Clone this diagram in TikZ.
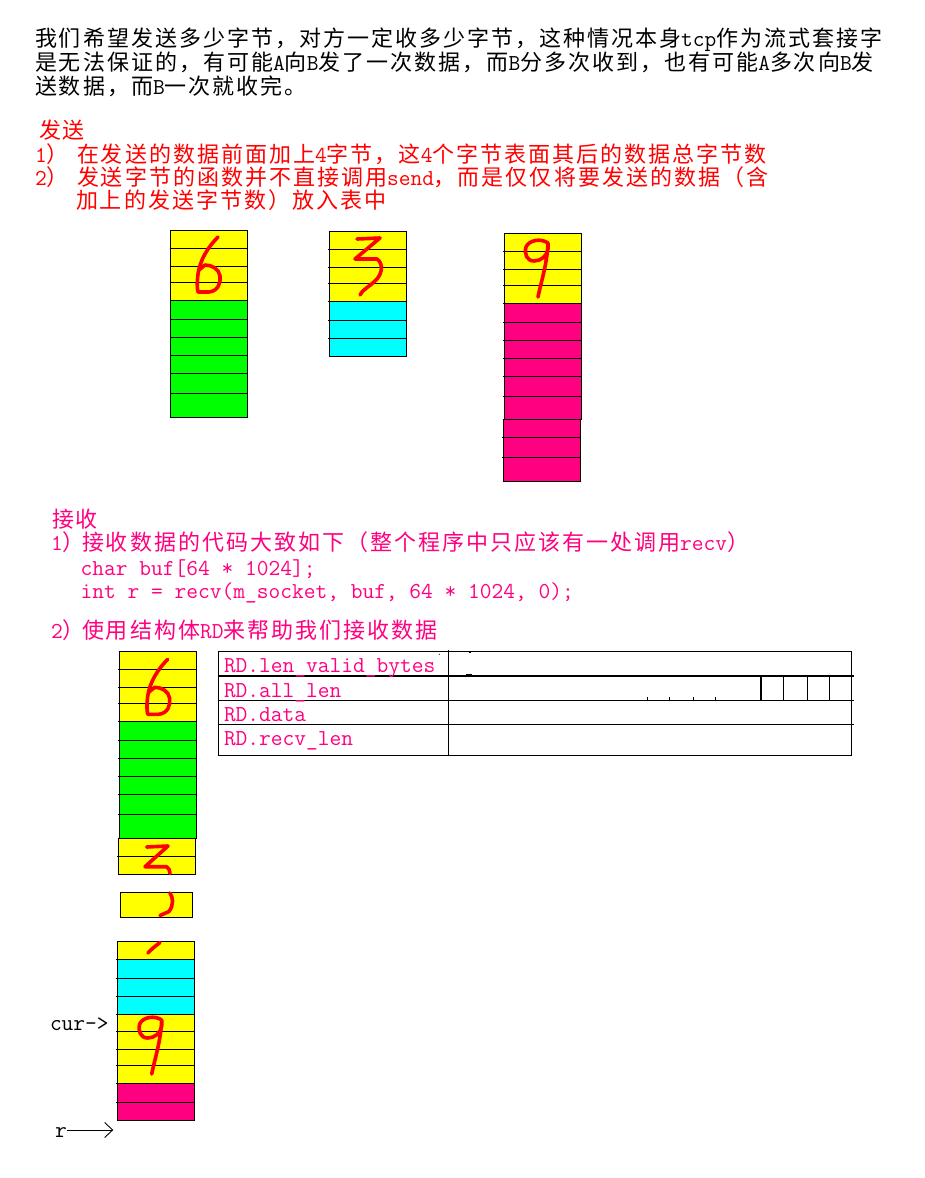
\documentclass[tikz,border=0pt]{standalone}
\usepackage{fontspec}
\usetikzlibrary{arrows.meta}
\newfontfamily\cjk[LetterSpace=9.1]{Noto Sans CJK SC}
\newfontfamily\lat{Latin Modern Mono}
\newcommand\lt[1]{{\lat\fontsize{22.8}{24}\selectfont #1}}
\definecolor{sendred}{RGB}{255,0,0}
\definecolor{recvpink}{RGB}{255,0,128}
\definecolor{cellyellow}{RGB}{255,255,0}
\definecolor{cellgreen}{RGB}{0,255,0}
\definecolor{cellcyan}{RGB}{0,255,255}
\definecolor{cellpink}{RGB}{255,0,128}
\definecolor{digitred}{RGB}{255,0,0}
% #1 colour, #2 x1, #3 x2, #4 ytop, #5 ybottom, #6 inner lines
\newcommand\cellseg[6]{%
  \fill[#1] (#2,#4) rectangle (#3,#5);
  \foreach \yy in {#6} {\draw[cellline] (#2-1,\yy) -- (#3+1,\yy);}
}
\newcommand\sixpath{(218,237) .. controls (208,247) and (200,260) .. (198,274) .. controls (197,282) and (197,288) .. (198,292) -- (209,292) .. controls (218,291) and (221,283) .. (220,276) .. controls (219,269) and (212,265) .. (205,265) -- (199,270)}
\newcommand\ninepath{(548,243) .. controls (541,238) and (529,240) .. (526,247) .. controls (524,254) and (527,261) .. (534,261) .. controls (541,261) and (547,256) .. (548,249) -- (548,243) .. controls (547,265) and (541,282) .. (538,297)}
\begin{document}
\begin{tikzpicture}[x=1pt,y=-1pt,
  txt/.style={anchor=base west, inner sep=0pt, outer sep=0pt, font=\cjk\fontsize{22}{24}\selectfont},
  codetxt/.style={anchor=base west, inner sep=0pt, outer sep=0pt, font=\lat\fontsize{22.8}{24}\selectfont},
  sendtxt/.style={txt, text=sendred},
  recvtxt/.style={txt, text=recvpink},
  recvcode/.style={codetxt, text=recvpink},
  cellline/.style={draw=black, line width=1pt},
  tableline/.style={draw=black, line width=1.1pt},
  digit/.style={draw=digitred, line width=3.6pt, line cap=round, line join=round},
  pointer/.style={draw=black, line width=0.9pt, -{Straight Barb[length=8pt,width=15pt,line width=0.9pt]}}
]
\fill[white] (0,0) rectangle (925,1178);
\path[use as bounding box] (0,0) rectangle (925,1178);

% ---- intro paragraph ----
\node[txt] (t1) at (35,46.4) {我们希望发送多少字节，对方一定收多少字节，这种情况本身\lt{tcp}作为流式套接字};
\node[txt] (t2) at (35,70.4) {是无法保证的，有可能\lt{A}向\lt{B}发了一次数据，而\lt{B}分多次收到，也有可能\lt{A}多次向\lt{B}发};
\node[txt] (t3) at (35,94.4) {送数据，而\lt{B}一次就收完。};

% ---- send section ----
\node[sendtxt] (sh) at (39,138.4) {发送};
\node[sendtxt] (s1n) at (35,162.4) {\lt{1}）};
\node[sendtxt] (s1) at (77,162.4) {在发送的数据前面加上\lt{4}字节，这\lt{4}个字节表面其后的数据总字节数};
\node[sendtxt] (s2n) at (35,185.4) {\lt{2}）};
\node[sendtxt] (s2) at (77,185.4) {发送字节的函数并不直接调用\lt{send}，而是仅仅将要发送的数据（含};
\node[sendtxt] (s2b) at (76,208.4) {加上的发送字节数）放入表中};

% stack 6
\cellseg{cellyellow}{170.5}{247.3}{230.3}{300.3}{248.3,266.3,282.3}
\cellseg{cellgreen}{170.5}{247.3}{300.3}{417.3}{300.3,319.3,337.3,355.3,373.3,393.3}
\draw[cellline] (170.5,230.3) rectangle (247.3,417.3);
\draw[digit] \sixpath;

% stack 3
\cellseg{cellyellow}{329.3}{406.3}{231.3}{301.3}{249.3,267.3,283.3}
\cellseg{cellcyan}{329.3}{406.3}{301.3}{356}{301.3,320,338.3}
\draw[cellline] (329.3,231.3) rectangle (406.3,356);
\draw[digit] (357,239) -- (380,238) -- (355,259) -- (377,259) .. controls (383,263) and (383,273) .. (376,280) .. controls (369,287) and (362,290) .. (360,295);

% stack 9
\cellseg{cellyellow}{504.3}{581.3}{233.3}{303.3}{251.3,269.3,285.3}
\cellseg{cellpink}{504.3}{581.3}{303.3}{419.3}{303.3,322.3,340.3,358.3,376.3,396}
\draw[cellline] (504.3,233.3) rectangle (581.3,419.3);
\cellseg{cellpink}{503.3}{580.3}{419.3}{481}{437.3,457.3}
\draw[cellline] (503.3,419.3) rectangle (580.3,481);
\draw[digit] \ninepath;

% ---- receive section ----
\node[recvtxt] (rh) at (52,527.4) {接收};
\node[recvtxt] (r1n) at (51,550) {\lt{1}）};
\node[recvtxt] (r1) at (82,550) {接收数据的代码大致如下（整个程序中只应该有一处调用\lt{recv}）};
\node[recvcode] (c1) at (80.7,575) {char buf[64 * 1024];};
\node[recvcode] (c2) at (80.7,598) {int r = recv(m\_socket, buf, 64 * 1024, 0);};
\node[recvtxt] (r2n) at (51,638.4) {\lt{2}）};
\node[recvtxt] (r2) at (82,638.4) {使用结构体\lt{RD}来帮助我们接收数据};

% received buffer
\cellseg{cellyellow}{119.3}{196.3}{651.3}{721.3}{669.3,687.3,703.3}
\cellseg{cellgreen}{119.3}{196.3}{721.3}{838.3}{721.3,740,758.3,776.3,794.3,814.3}
\draw[cellline] (119.3,651.3) rectangle (196.3,838.3);
\draw[digit, shift={(-50.3,422.3)}] \sixpath;

\cellseg{cellyellow}{118.3}{195.3}{838.3}{874.3}{856.3}
\draw[cellline] (118.3,838.3) rectangle (195.3,874.3);
\draw[digit] (146.7,847) -- (168,846) -- (145,866.7) -- (166.7,866.7) .. controls (169,868) and (170,871) .. (170,873.5);

\cellseg{cellyellow}{120.3}{192.3}{892.3}{917}{}
\draw[cellline] (120.3,892.3) rectangle (192.3,917);
\draw[digit] (170,893) .. controls (173,897) and (174,905) .. (169,911.5) -- (160,915.5);

\cellseg{cellyellow}{117.3}{194.3}{941.3}{959.3}{}
\cellseg{cellcyan}{117.3}{194.3}{959.3}{1014.3}{959.3,978.3,996.3}
\cellseg{cellyellow}{117.3}{194.3}{1014.3}{1083.3}{1014.3,1031,1049,1065.3}
\cellseg{cellpink}{117.3}{194.3}{1083.3}{1120.3}{1083.3,1102.3}
\draw[cellline] (117.3,941.3) rectangle (194.3,1120.3);
\draw[digit] (160,942.5) -- (153,948) -- (147.8,953);
\draw[digit, shift={(-386.3,777)}] \ninepath;

% pointers
\node[codetxt] (cur) at (50,1030) {cur->};
\node[codetxt] (r) at (55,1137) {r};
\coordinate (rEnd) at (113.3,1130);
\draw[pointer] (r.east |- rEnd) -- (rEnd);

% ---- RD table ----
\draw[tableline] (218.3,651.3) rectangle (851.7,755.3);
\foreach \yy in {676,700.3,724.3} {\draw[tableline] (217.5,\yy) -- (853.5,\yy);}
\draw[tableline] (448.3,650) -- (448.3,755.3);
\foreach \xx in {761,783.3,807.3,829.3} {\draw[tableline] (\xx,676) -- (\xx,700.3);}
\foreach \xx in {647.3,669.3,693.3,715.3} {\draw[tableline] (\xx,697) -- (\xx,700.3);}
\draw[line width=0.8pt] (468.5,652.3) -- (471,652.3);
\draw[line width=1.3pt] (466,675) -- (472,675);
\fill (439.3,654.3) circle (0.6);
\node[codetxt, text=recvpink] (f1) at (224,672) {RD.len\_valid\_bytes};
\node[codetxt, text=recvpink] (f2) at (224,697) {RD.all\_len};
\node[codetxt, text=recvpink] (f3) at (224,721) {RD.data};
\node[codetxt, text=recvpink] (f4) at (224,745) {RD.recv\_len};
\end{tikzpicture}
\end{document}
